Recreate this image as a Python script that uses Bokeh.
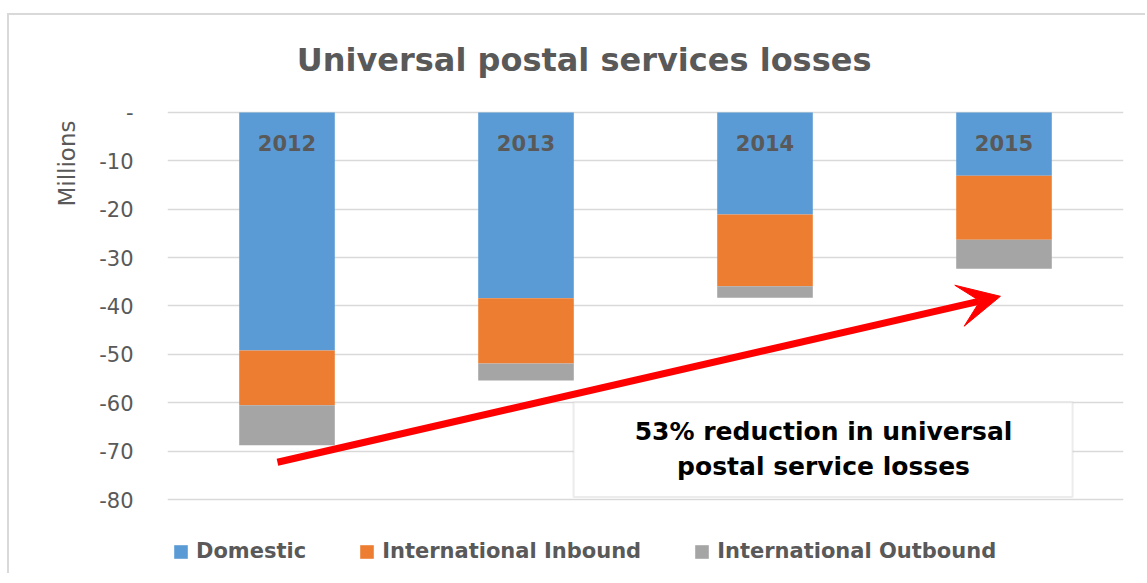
from bokeh.plotting import figure
from bokeh.models import (FactorRange, Range1d, FixedTicker, Legend, LegendItem,
                          BoxAnnotation, Label, Arrow, VeeHead, Title)
from bokeh.core.properties import value
from bokeh.embed import file_html
from bokeh.resources import INLINE

years = ["2012", "2013", "2014", "2015"]
domestic = [-49.2, -38.4, -21.1, -13.1]
inbound = [-11.3, -13.5, -14.8, -13.2]
outbound = [-8.3, -3.5, -2.4, -6.0]
series = ["Domestic", "International Inbound", "International Outbound"]
colors = ["#5B9BD5", "#ED7D31", "#A5A5A5"]
y_ticks = [0, -10, -20, -30, -40, -50, -60, -70, -80]
y_tick_labels = ["-", "-10", "-20", "-30", "-40", "-50", "-60", "-70", "-80"]
title_text = "Universal postal services losses"
axis_title = "Millions"
note_lines = ["53% reduction in universal", "postal service losses"]

GREY = "#595959"
FONT = "DejaVu Sans"

p = figure(x_range=FactorRange(*years), y_range=Range1d(-95.71, 20.05),
           width=1138, height=560, output_backend="svg", toolbar_location=None,
           min_border_left=158, min_border_right=24, min_border_top=0,
           min_border_bottom=0, margin=(13, 0, 0, 7))
p.styles = {"border-left": "2px solid #d9d9d9", "border-top": "2px solid #d9d9d9"}
p.title.visible = False

p.outline_line_color = None
p.xaxis.visible = False
p.xgrid.grid_line_color = None
p.ygrid.grid_line_color = "#d9d9d9"
p.ygrid.grid_line_width = 1.5
p.yaxis.ticker = FixedTicker(ticks=y_ticks)
p.yaxis.major_label_overrides = dict(zip(y_ticks, y_tick_labels))
p.yaxis.axis_line_color = None
p.yaxis.major_tick_line_color = None
p.yaxis.minor_tick_line_color = None
p.yaxis.major_tick_out = 0
p.yaxis.major_label_standoff = 34
p.yaxis.major_label_text_font = FONT
p.yaxis.major_label_text_font_size = "21px"
p.yaxis.major_label_text_color = GREY

p.add_layout(Title(text=axis_title, align="right", offset=105, standoff=33,
                   text_font=FONT, text_font_size="23px", text_font_style="normal",
                   text_color=GREY), "left")

p.add_layout(Label(x=1.743, y=10.8, text=title_text, text_align="center",
                   text_baseline="alphabetic", text_font=FONT, text_font_style="bold",
                   text_font_size="32px", text_color=GREY))

data = {"years": years, series[0]: domestic, series[1]: inbound, series[2]: outbound}
renderers = p.vbar_stack(series, x="years", width=0.4, color=colors, source=data,
                         line_color=None)

p.text(x=years, y=[-6.4] * len(years), text=years, text_align="center",
       text_baseline="middle", text_font=value(FONT), text_font_style="bold",
       text_font_size="21px", text_color=GREY)

p.add_layout(BoxAnnotation(left=1.699, right=3.787, top=-59.9, bottom=-79.5,
                           fill_color="white", fill_alpha=1.0,
                           line_color="#BFBFBF", line_width=2))
p.add_layout(Label(x=2.745, y=-65.9, text=note_lines[0], text_align="center",
                   text_baseline="middle", text_font=FONT, text_font_style="bold",
                   text_font_size="25px", text_color="black"))
p.add_layout(Label(x=2.745, y=-73.1, text=note_lines[1], text_align="center",
                   text_baseline="middle", text_font=FONT, text_font_style="bold",
                   text_font_size="25px", text_color="black"))

p.add_layout(Arrow(end=VeeHead(size=42, fill_color="red", line_color="red"),
                   x_start=0.46, y_start=-72.3, x_end=3.485, y_end=-38.0,
                   line_color="red", line_width=7))

legend = Legend(items=[LegendItem(label=s, renderers=[r]) for s, r in zip(series, renderers)],
                orientation="horizontal", location=(5, 12))
legend.glyph_width = 17
legend.glyph_height = 17
legend.label_standoff = 7
legend.spacing = 52
legend.padding = 0
legend.margin = 0
legend.border_line_color = None
legend.background_fill_alpha = 0
legend.label_text_font = FONT
legend.label_text_font_size = "21px"
legend.label_text_font_style = "bold"
legend.label_text_color = GREY
p.add_layout(legend)

open("out.html", "w").write(file_html(p, INLINE))
